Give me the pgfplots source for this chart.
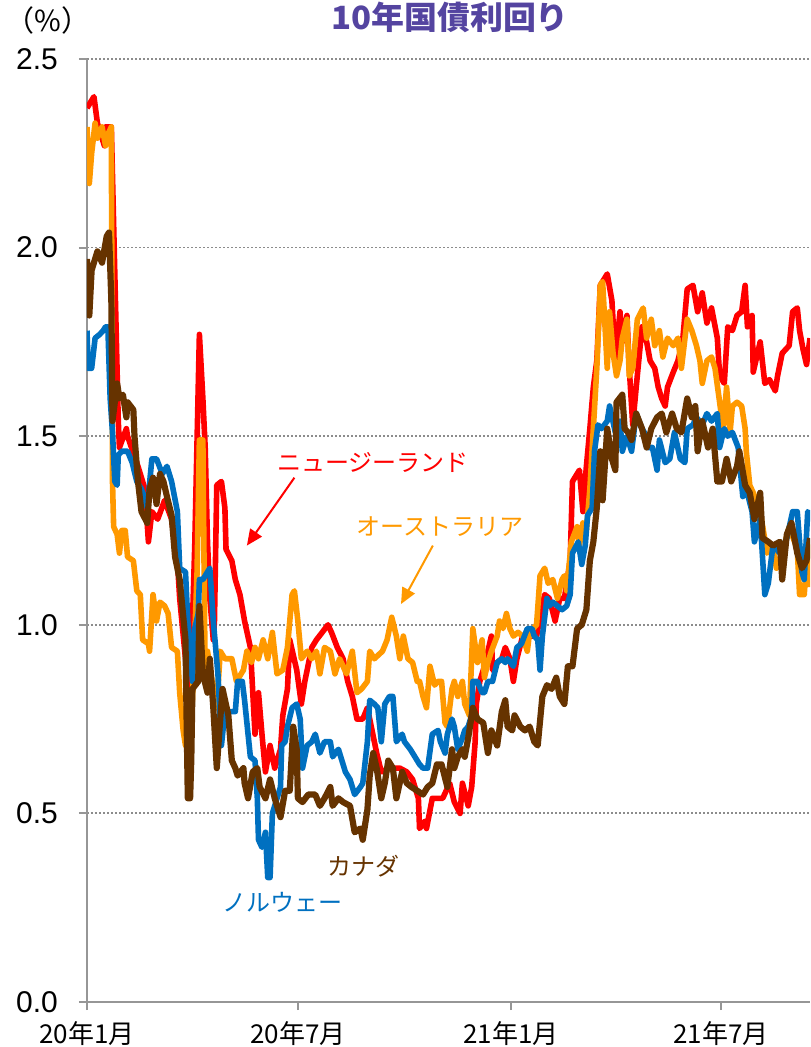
\documentclass[border=0pt]{standalone}
\usepackage{pgfplots}
\pgfplotsset{compat=1.18}
\usetikzlibrary{arrows.meta}
\usepackage{fontspec}
\setmainfont{Liberation Sans}
\newfontfamily\jp{Noto Sans CJK JP}
\newfontfamily\jpt[FakeStretch=1.03]{Noto Sans CJK JP}
\definecolor{nzred}{RGB}{255,0,0}
\definecolor{auorange}{RGB}{255,153,0}
\definecolor{noblue}{RGB}{0,112,192}
\definecolor{cabrown}{RGB}{102,51,0}
\definecolor{titlec}{RGB}{84,68,160}
\definecolor{axgray}{RGB}{150,150,150}
\definecolor{gridgray}{RGB}{140,140,140}
\begin{document}
\begin{tikzpicture}
\begin{axis}[
  at={(0,0)}, anchor=origin,
  scale only axis, width=361.5pt, height=471.5pt,
  xmin=0, xmax=624, ymin=0, ymax=2.5,
  axis x line*=bottom, axis y line*=left,
  axis line style={axgray, line width=1pt},
  xtick={0,182,366,547},
  xticklabels={20年1月,20年7月,21年1月,21年7月},
  xticklabel style={font=\jp\fontsize{13pt}{15pt}\selectfont, yshift=-2pt},
  ytick={0,0.5,1,1.5,2,2.5},
  yticklabel style={/pgf/number format/fixed, /pgf/number format/fixed zerofill, /pgf/number format/precision=1, font=\fontsize{15pt}{17pt}\selectfont, xshift=-7pt},
  /pgf/number format/assume math mode=true,
  tick align=outside, major tick length=4pt,
  tick style={axgray, line width=1pt},
  ymajorgrids, grid style={gridgray, dash pattern=on 1pt off 1pt, line width=0.9pt},
  clip mode=individual,
  every axis plot/.append style={line width=2.8pt, line join=round, no markers},
]
% New Zealand
\addplot[nzred] coordinates {
(0,2.37)(6,2.40)(9,2.33)(15,2.27)(16,2.32)(21,2.32)(27,1.54)(28,1.47)(34,1.52)(35,1.50)(44,1.42)(50,1.36)(53,1.22)(56,1.30)(61,1.28)(67,1.33)(73,1.28)(78,1.17)(80,1.07)(85,0.91)(89,0.80)(93,1.21)(97,1.77)(100,1.60)(102,1.47)(104,1.22)(106,1.07)(109,0.96)(110,1.01)(112,1.37)(116,1.38)(119,1.31)(120,1.20)(125,1.17)(128,1.12)(132,1.08)(136,1.01)(141,0.94)(145,0.71)(148,0.82)(151,0.71)(154,0.61)(158,0.68)(162,0.62)(167,0.67)(169,0.76)(173,0.83)(175,0.96)(181,0.88)(185,0.79)(188,0.85)(194,0.94)(198,0.96)(203,0.98)(208,1.00)(211,0.98)(216,0.94)(221,0.91)(225,0.85)(229,0.81)(233,0.75)(238,0.75)(242,0.78)(246,0.72)(250,0.66)(254,0.61)(261,0.62)(270,0.62)(276,0.61)(281,0.59)(286,0.54)(287,0.46)(292,0.48)(293,0.46)(298,0.54)(302,0.54)(307,0.54)(313,0.58)(317,0.53)(322,0.50)(324,0.58)(329,0.52)(332,0.57)(335,0.69)(336,0.79)(339,0.85)(343,0.89)(346,0.93)(349,0.97)(350,0.88)(354,0.90)(358,0.91)(361,0.94)(365,0.91)(368,0.85)(371,0.91)(376,0.97)(388,0.97)(391,1.02)(395,1.08)(399,1.07)(404,1.01)(408,1.07)(412,1.07)(417,1.17)(419,1.38)(425,1.41)(428,1.30)(431,1.42)(434,1.52)(437,1.63)(440,1.70)(443,1.90)(449,1.93)(453,1.86)(456,1.70)(460,1.83)(462,1.75)(466,1.82)(468,1.68)(471,1.53)(474,1.63)(479,1.79)(483,1.75)(486,1.70)(490,1.68)(493,1.63)(496,1.60)(499,1.58)(501,1.63)(506,1.67)(510,1.70)(514,1.75)(518,1.89)(523,1.90)(527,1.83)(531,1.88)(535,1.80)(539,1.84)(544,1.76)(546,1.66)(550,1.64)(553,1.79)(557,1.78)(561,1.82)(565,1.83)(568,1.90)(570,1.79)(574,1.82)(575,1.67)(581,1.75)(585,1.64)(589,1.65)(594,1.62)(596,1.66)(600,1.72)(606,1.74)(609,1.83)(613,1.84)(615,1.78)(618,1.73)(621,1.69)(624,1.76)
};
% Australia
\addplot[auorange] coordinates {
(0,2.32)(2,2.17)(4,2.25)(7,2.33)(9,2.29)(13,2.32)(16,2.27)(18,2.30)(21,2.32)(22,1.38)(23,1.26)(26,1.24)(28,1.19)(30,1.25)(33,1.25)(35,1.18)(40,1.17)(43,1.09)(46,1.08)(48,0.96)(53,0.95)(54,0.93)(57,1.08)(60,1.01)(63,1.06)(67,1.05)(70,1.03)(73,0.94)(78,0.93)(80,0.82)(83,0.72)(85,0.68)(91,0.80)(95,1.14)(97,1.49)(100,1.49)(102,0.85)(104,0.93)(108,0.85)(112,0.78)(115,0.93)(119,0.91)(125,0.91)(129,0.85)(135,0.88)(138,0.93)(142,0.90)(145,0.94)(148,0.91)(152,0.96)(156,0.91)(160,0.98)(164,0.87)(169,0.88)(173,0.94)(177,1.08)(179,1.09)(182,1.01)(185,0.91)(190,0.93)(194,0.91)(198,0.93)(201,0.87)(205,0.94)(210,0.93)(214,0.87)(218,0.91)(224,0.87)(229,0.93)(233,0.82)(237,0.83)(242,0.85)(244,0.93)(248,0.91)(255,0.93)(259,0.96)(263,1.02)(267,0.97)(270,0.91)(273,0.97)(277,0.91)(281,0.90)(285,0.85)(287,0.85)(290,0.81)(293,0.78)(296,0.89)(300,0.84)(303,0.85)(306,0.85)(309,0.74)(311,0.73)(315,0.83)(317,0.85)(320,0.81)(324,0.85)(326,0.79)(330,0.76)(333,0.99)(337,0.90)(341,0.96)(343,0.86)(346,0.90)(349,0.93)(354,0.97)(356,1.01)(359,0.99)(362,1.03)(365,0.99)(368,0.97)(372,0.98)(376,0.97)(380,0.93)(382,0.98)(388,1.00)(391,1.13)(395,1.15)(398,1.11)(402,1.12)(406,1.07)(410,1.12)(412,1.13)(414,1.09)(418,1.22)(423,1.26)(425,1.21)(428,1.27)(431,1.25)(434,1.36)(437,1.52)(440,1.68)(443,1.90)(445,1.91)(449,1.68)(451,1.83)(454,1.72)(457,1.66)(460,1.70)(462,1.76)(466,1.81)(468,1.66)(471,1.68)(475,1.81)(480,1.84)(483,1.76)(487,1.81)(490,1.74)(494,1.78)(497,1.71)(501,1.76)(506,1.74)(510,1.76)(513,1.68)(518,1.81)(522,1.78)(526,1.74)(529,1.70)(531,1.64)(535,1.70)(539,1.71)(542,1.68)(546,1.59)(549,1.52)(552,1.63)(555,1.51)(557,1.58)(561,1.59)(565,1.58)(568,1.52)(569,1.46)(572,1.37)(575,1.35)(581,1.30)(587,1.19)(592,1.21)(595,1.15)(600,1.19)(606,1.26)(613,1.20)(615,1.08)(619,1.08)(622,1.21)(624,1.10)
};
% Norway
\addplot[noblue] coordinates {
(0,1.78)(1,1.68)(4,1.68)(7,1.76)(11,1.77)(14,1.78)(16,1.79)(18,1.79)(20,1.60)(22,1.51)(24,1.38)(26,1.37)(27,1.45)(30,1.46)(35,1.46)(39,1.43)(43,1.38)(47,1.36)(52,1.31)(56,1.44)(60,1.44)(65,1.40)(69,1.42)(73,1.38)(78,1.30)(80,1.15)(85,1.14)(87,1.01)(91,0.85)(93,0.99)(96,1.03)(97,1.12)(100,1.12)(104,1.14)(106,1.15)(109,1.01)(113,0.87)(116,0.68)(119,0.77)(123,0.77)(128,0.77)(130,0.85)(134,0.85)(136,0.80)(141,0.65)(145,0.64)(147,0.54)(148,0.43)(151,0.41)(154,0.45)(156,0.33)(158,0.33)(160,0.50)(164,0.54)(167,0.57)(168,0.68)(171,0.69)(173,0.73)(177,0.78)(181,0.79)(184,0.75)(186,0.62)(190,0.68)(194,0.69)(197,0.71)(201,0.66)(205,0.69)(210,0.69)(212,0.65)(217,0.67)(223,0.61)(227,0.59)(231,0.55)(236,0.57)(238,0.58)(242,0.69)(244,0.80)(248,0.79)(251,0.78)(254,0.69)(257,0.79)(261,0.81)(264,0.81)(267,0.69)(272,0.71)(274,0.69)(279,0.67)(283,0.65)(287,0.63)(290,0.62)(294,0.62)(298,0.71)(303,0.72)(305,0.69)(309,0.66)(311,0.71)(315,0.75)(317,0.73)(320,0.67)(324,0.70)(326,0.72)(329,0.73)(332,0.76)(333,0.85)(337,0.85)(341,0.82)(343,0.82)(346,0.85)(350,0.85)(354,0.90)(358,0.91)(361,0.90)(363,0.91)(368,0.89)(371,0.94)(375,0.95)(380,0.99)(384,0.99)(386,0.97)(389,0.96)(391,0.88)(393,0.97)(397,1.07)(399,1.05)(402,1.06)(406,1.05)(410,1.04)(414,1.05)(417,1.08)(419,1.19)(424,1.22)(427,1.16)(430,1.21)(432,1.29)(436,1.31)(438,1.46)(441,1.53)(444,1.52)(449,1.54)(451,1.58)(456,1.51)(460,1.54)(462,1.46)(466,1.50)(470,1.46)(474,1.56)(479,1.52)(481,1.51)(484,1.47)(488,1.47)(492,1.41)(494,1.49)(499,1.43)(503,1.44)(507,1.51)(512,1.44)(516,1.43)(518,1.52)(523,1.53)(526,1.55)(531,1.53)(535,1.56)(539,1.54)(544,1.56)(546,1.47)(550,1.52)(553,1.50)(557,1.51)(562,1.47)(566,1.34)(569,1.36)(574,1.30)(576,1.22)(581,1.28)(585,1.08)(588,1.11)(592,1.21)(598,1.19)(604,1.23)(609,1.30)(613,1.30)(617,1.14)(619,1.12)(622,1.30)(624,1.29)
};
% Canada
\addplot[cabrown, line width=3.1pt] coordinates {
(0,1.97)(2,1.82)(4,1.94)(7,1.97)(9,1.99)(13,1.96)(17,2.03)(19,2.04)(21,1.86)(22,1.54)(26,1.64)(28,1.60)(31,1.61)(34,1.55)(35,1.59)(40,1.57)(41,1.50)(44,1.38)(47,1.30)(52,1.27)(54,1.36)(57,1.39)(60,1.32)(63,1.40)(66,1.38)(69,1.34)(73,1.29)(76,1.18)(80,1.12)(85,0.96)(86,0.74)(87,0.54)(89,0.54)(90,0.64)(91,0.83)(96,0.85)(97,1.05)(100,0.87)(104,0.82)(106,0.91)(109,0.78)(112,0.62)(115,0.75)(117,0.83)(122,0.76)(125,0.64)(128,0.62)(130,0.60)(135,0.62)(136,0.58)(139,0.54)(143,0.61)(147,0.62)(149,0.57)(154,0.54)(158,0.59)(162,0.54)(167,0.49)(171,0.56)(175,0.56)(178,0.73)(181,0.67)(182,0.54)(186,0.53)(191,0.55)(197,0.55)(201,0.52)(205,0.54)(210,0.57)(212,0.52)(217,0.54)(221,0.53)(227,0.52)(231,0.45)(236,0.46)(238,0.43)(242,0.51)(244,0.60)(247,0.66)(250,0.62)(254,0.54)(257,0.58)(260,0.64)(264,0.62)(267,0.54)(272,0.61)(276,0.58)(280,0.57)(285,0.56)(290,0.55)(294,0.57)(298,0.58)(302,0.63)(306,0.63)(311,0.57)(315,0.67)(317,0.62)(320,0.65)(324,0.67)(326,0.65)(329,0.70)(333,0.78)(337,0.75)(342,0.74)(346,0.66)(349,0.72)(354,0.68)(358,0.77)(361,0.80)(363,0.73)(367,0.72)(369,0.76)(374,0.73)(378,0.72)(382,0.73)(386,0.69)(389,0.68)(393,0.81)(397,0.84)(401,0.83)(405,0.86)(408,0.81)(412,0.79)(415,0.89)(419,0.89)(423,0.99)(427,1.00)(431,1.04)(434,1.17)(437,1.22)(440,1.31)(443,1.46)(445,1.33)(449,1.52)(453,1.44)(456,1.41)(457,1.59)(462,1.61)(464,1.52)(467,1.51)(470,1.49)(474,1.56)(479,1.52)(483,1.47)(487,1.52)(492,1.55)(496,1.56)(500,1.51)(505,1.56)(509,1.52)(513,1.51)(518,1.60)(522,1.55)(525,1.58)(527,1.46)(531,1.54)(536,1.47)(540,1.52)(544,1.38)(548,1.38)(552,1.44)(556,1.38)(561,1.42)(563,1.46)(568,1.37)(572,1.35)(576,1.28)(581,1.35)(583,1.23)(588,1.22)(592,1.21)(598,1.22)(600,1.12)(604,1.24)(608,1.27)(613,1.19)(617,1.15)(621,1.17)(624,1.23)
};
\node[text=nzred, font=\jp\fontsize{12pt}{14pt}\selectfont] at (axis cs:247,1.43) {ニュージーランド};
\draw[nzred, line width=1pt, -{Triangle[length=8pt,width=7pt]}] (axis cs:179,1.39) -- (axis cs:138,1.21);
\node[text=auorange, font=\jp\fontsize{12pt}{14pt}\selectfont] at (axis cs:305,1.26) {オーストラリア};
\draw[auorange, line width=1pt, -{Triangle[length=8pt,width=7pt]}] (axis cs:298.5,1.21) -- (axis cs:271,1.055);
\node[text=cabrown, font=\jp\fontsize{12pt}{14pt}\selectfont] at (axis cs:239,0.36) {カナダ};
\node[text=noblue, font=\jp\fontsize{12pt}{14pt}\selectfont] at (axis cs:169,0.265) {ノルウェー};
\end{axis}
\node[font=\jpt\bfseries\fontsize{16pt}{18pt}\selectfont, text=titlec] at (181.5pt,492.5pt) {10年国債利回り};
\node[font=\jp\fontsize{14.5pt}{16pt}\selectfont] at (-19.5pt,491pt) {（\%）};
\pgfresetboundingbox
\path[use as bounding box] (-43.5pt,-22.5pt) rectangle (361.5pt,501pt);
\end{tikzpicture}
\end{document}
